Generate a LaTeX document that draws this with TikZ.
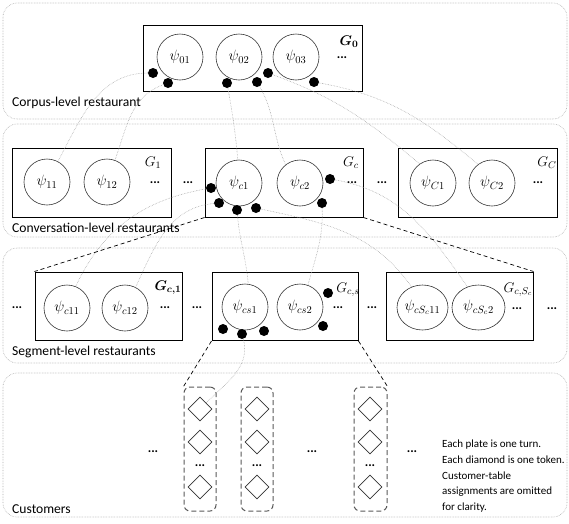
\RequirePackage{fix-cm}
\documentclass[tikz,border=0pt]{standalone}
\usepackage{fontspec}
\setmainfont{Carlito}
\usepackage{amsmath}
\usepackage{bm}
\usetikzlibrary{shapes.geometric}
\tikzset{
  container/.style={draw=gray!65, densely dotted, rounded corners=14pt, line width=0.6pt},
  rest/.style={draw=black, line width=1pt, inner sep=0pt},
  tab/.style={circle, draw=black!80, line width=0.6pt, minimum size=46pt, inner sep=0pt, font=\fontsize{15}{17}\selectfont},
  ell/.style={ellipse, draw=black!80, line width=0.6pt, inner sep=0pt, minimum height=45pt},
  psitxt/.style={inner sep=0pt, font=\fontsize{15}{17}\selectfont},
  dot/.style={circle, fill=black, minimum size=10pt, inner sep=0pt},
  dd/.style={inner sep=0pt, font=\fontsize{13}{15}\selectfont\bfseries},
  glab/.style={inner sep=0pt, font=\fontsize{14}{16}\selectfont},
  lvl/.style={anchor=west, inner sep=0pt, font=\fontsize{13.6}{16}\selectfont},
  link/.style={draw=gray!75, densely dotted, line width=0.55pt},
  dlink/.style={draw=black, line width=0.7pt, dash pattern=on 4pt off 3pt},
  plate/.style={draw=black!65, line width=1pt, dash pattern=on 5pt off 3pt, rounded corners=6pt, inner sep=0pt, minimum height=124pt},
  dia/.style={diamond, draw=black!80, line width=0.6pt, minimum size=24pt, inner sep=0pt},
}
\begin{document}
\begin{tikzpicture}[x=1pt,y=1pt]
\useasboundingbox (0,0) rectangle (569,-523);

% level containers
\draw[container] (3,-3) rectangle (567,-119);
\draw[container] (3,-124) rectangle (567,-237);
\draw[container] (3,-248) rectangle (567,-363);
\draw[container] (3,-373) rectangle (567,-517);

\node[lvl] (lcorp) at (12,-103) {Corpus-level restaurant};
\node[lvl] (lconv) at (12,-228) {Conversation-level restaurants};
\node[lvl] (lseg) at (12,-352) {Segment-level restaurants};
\node[lvl] (lcust) at (12,-509) {Customers};

% ---------- corpus level ----------
\node[rest, minimum width=219pt, minimum height=66pt] (G0) at (252.5,-58) {};
\node[tab] (p01) at (180,-57) {$\psi_{01}$};
\node[tab] (p02) at (239,-57) {$\psi_{02}$};
\node[tab] (p03) at (296,-57) {$\psi_{03}$};
\node[dd] (x01) at (342,-58) {...};
\node[glab] (g0) at (349,-42) {$\bm{G_0}$};
\node[dot] (a1) at (153,-73) {};
\node[dot] (a2) at (168,-83) {};
\node[dot] (a3) at (227,-83) {};
\node[dot] (a4) at (257,-82) {};
\node[dot] (a5) at (268,-73) {};
\node[dot] (a6) at (314,-82) {};

% ---------- conversation level ----------
\node[rest, minimum width=159pt, minimum height=69pt] (G1) at (91.5,-182.5) {};
\node[tab] (p11) at (47,-182) {$\psi_{11}$};
\node[tab] (p12) at (107,-182) {$\psi_{12}$};
\node[glab] (g1) at (153,-163) {$G_1$};
\node[dd] (x11) at (155,-183) {...};
\node[dd] (x12) at (188,-183) {...};

\node[rest, minimum width=158pt, minimum height=69pt] (Gc) at (284,-182.5) {};
\node[tab] (pc1) at (239,-183) {$\psi_{c1}$};
\node[tab] (pc2) at (300,-183) {$\psi_{c2}$};
\node[glab] (gc) at (351,-163) {$G_c$};
\node[dd] (xc1) at (352,-183) {...};
\node[dd] (xc2) at (382,-183) {...};
\node[dot] (b1) at (211,-188) {};
\node[dot] (b2) at (219,-203) {};
\node[dot] (b3) at (237,-210) {};
\node[dot] (b4) at (256,-208) {};
\node[dot] (b5) at (330,-179) {};
\node[dot] (b6) at (322,-203) {};

\node[rest, minimum width=159pt, minimum height=69pt] (GC) at (477.5,-182.5) {};
\node[tab] (pC1) at (433,-183) {$\psi_{C1}$};
\node[tab] (pC2) at (492,-183) {$\psi_{C2}$};
\node[glab] (gC) at (547,-163) {$G_C$};
\node[dd] (xC1) at (538,-183) {...};

% ---------- segment level ----------
\node[dd] (xs0) at (17,-308) {...};
\node[rest, minimum width=147pt, minimum height=68pt] (Gc1) at (108.5,-306) {};
\node[tab] (pc11) at (67,-308) {$\psi_{c11}$};
\node[tab] (pc12) at (125,-308) {$\psi_{c12}$};
\node[glab] (gc1) at (168,-288) {$\bm{G_{c,1}}$};
\node[dd] (xs1) at (165,-308) {...};
\node[dd] (xs2) at (197,-308) {...};

\node[rest, minimum width=146pt, minimum height=68pt] (Gcs) at (285,-306.5) {};
\node[tab] (pcs1) at (245,-307) {$\psi_{cs1}$};
\node[tab] (pcs2) at (300,-307) {$\psi_{cs2}$};
\node[glab] (gcs) at (348,-290) {$G_{c,s}$};
\node[dd] (xs3) at (338,-308) {...};
\node[dd] (xs4) at (372,-308) {...};
\node[dot] (c1) at (223,-329) {};
\node[dot] (c2) at (242,-334) {};
\node[dot] (c3) at (264,-331) {};
\node[dot] (c4) at (328,-293) {};
\node[dot] (c5) at (323,-326) {};

\node[rest, minimum width=147pt, minimum height=68pt] (GcSc) at (459.5,-306) {};
\node[ell, minimum width=51pt] (pe1) at (422.5,-307.5) {};
\node[ell, minimum width=53pt] (pe2) at (478.5,-307.5) {};
\node[psitxt] (te1) at (pe1) {$\psi_{cS_c11}$};
\node[psitxt] (te2) at (pe2) {$\psi_{cS_c2}$};
\node[glab] (gcSc) at (518,-290) {$G_{c,S_c}$};
\node[dd] (xs5) at (517,-309) {...};
\node[dd] (xs6) at (552,-309) {...};

% ---------- customers ----------
\node[plate, minimum width=32pt] (pl1) at (200,-449) {};
\node[plate, minimum width=32pt] (pl2) at (257,-449) {};
\node[plate, minimum width=33pt] (pl3) at (370.5,-449) {};
\foreach \px/\pn in {200/1,257/2,370/3}{
  \node[dia] (dm\pn1) at (\px,-409) {};
  \node[dia] (dm\pn2) at (\px,-442) {};
  \node[dd] (dt\pn) at (\px,-466) {...};
  \node[dia] (dm\pn3) at (\px,-487) {};
}
\node[dd] (xu1) at (153,-452) {...};
\node[dd] (xu2) at (312,-452) {...};
\node[dd] (xu3) at (412,-452) {...};
\node[anchor=north west, align=left, inner sep=0pt, font=\fontsize{11}{15.7}\selectfont] (note) at (442,-440)
  {Each plate is one turn.\\Each diamond is one token.\\Customer-table\\assignments are omitted\\for clarity.};

% ---------- connectors ----------
\draw[link] (a1) to[out=180,in=62] (p11.62);
\draw[link] (a2) to[out=200,in=70] (p12.70);
\draw[link] (a3) to[out=-80,in=95] (pc1.93);
\draw[link] (a4) to[out=-60,in=115] (pc2.128);
\draw[link] (a5) to[out=-20,in=140] (pC1.125);
\draw[link] (a6) to[out=-10,in=140] (pC2.127);

\draw[link] (b1) to[out=190,in=65] (pc11.68);
\draw[link] (b2) to[out=185,in=65] (pc12.63);
\draw[link] (b3) to[out=-85,in=95] (pcs1.82);
\draw[link] (b4) to[out=-12,in=125] (pe1.118);
\draw[link] (b5) to[out=-10,in=125] (pe2.118);
\draw[link] (b6) to[out=-88,in=75] (pcs2.70);

\draw[dlink] (Gc.south west) -- (Gc1.north west);
\draw[dlink] (Gc.south east) -- (GcSc.north east);
\draw[dlink] (Gcs.south west) -- (pl1.north west);
\draw[dlink] (Gcs.south east) -- (pl3.north east);

\draw[link] (c2) to[out=-75,in=45] (dm11.north east);
\end{tikzpicture}
\end{document}
